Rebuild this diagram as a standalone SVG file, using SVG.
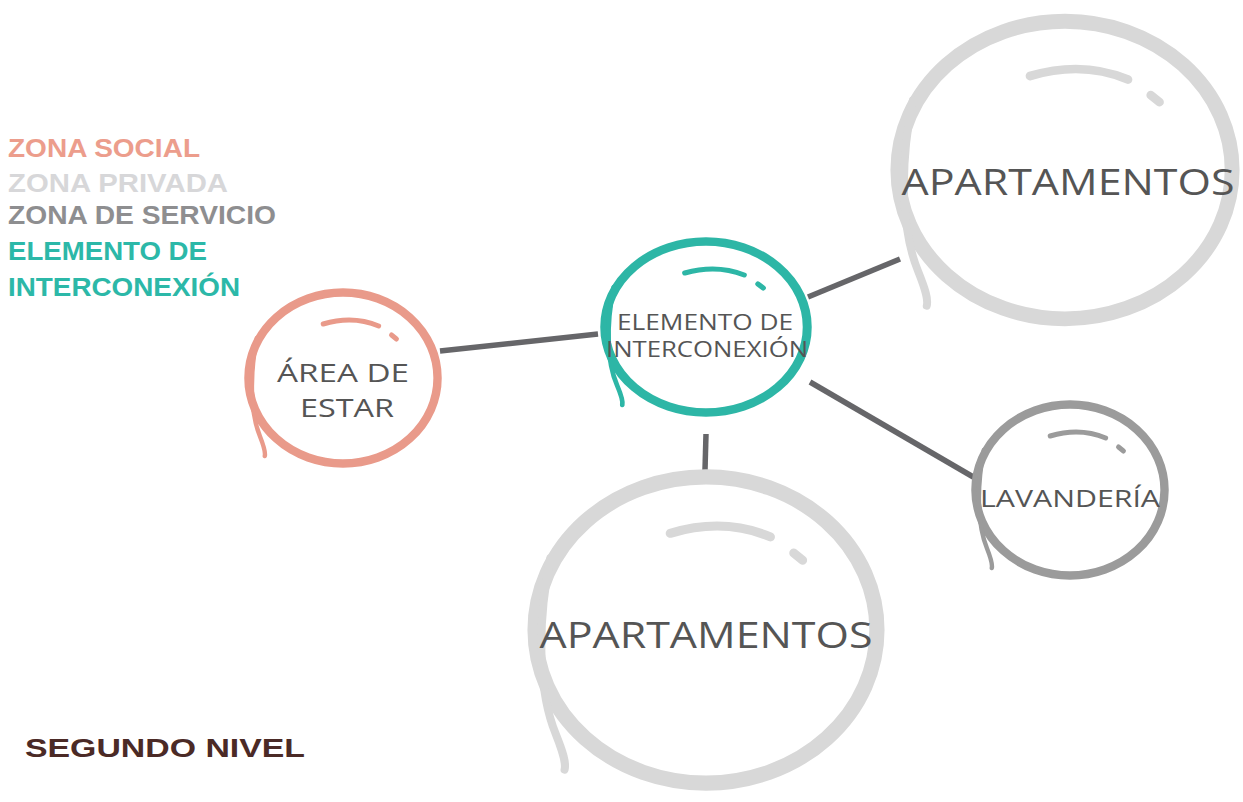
<svg xmlns="http://www.w3.org/2000/svg" xmlns:xlink="http://www.w3.org/1999/xlink" width="1243" height="802" viewBox="0 0 1243 802">
<style>
.leg{font-family:"Liberation Sans",Arial,sans-serif;font-weight:700;font-size:26px}
.lbl{font-family:"Open Sans","Liberation Sans",sans-serif;font-weight:400;fill:#555;stroke:none;text-anchor:middle}
.conn line{stroke:#666669;stroke-width:5.5;stroke-linecap:butt}
.social{stroke:#e99a8a}
.inter{stroke:#2db6a6}
.priv{stroke:#d8d8d8}
.serv{stroke:#9b9b9b}
</style>
<defs>
<g id="sk" fill="none">
<ellipse cx="0" cy="0" rx="95.5" ry="85.5" stroke-width="8.5"/>
<path d="M-87,-40 C-95,0 -93,36 -84,58 C-80,68 -78,74 -79,78" stroke-width="4.5" stroke-linecap="round"/>
<path d="M-20,-54 Q10,-63 36,-52" stroke-width="5" stroke-linecap="round"/>
<path d="M49,-43 L54,-39" stroke-width="5" stroke-linecap="round"/>
</g>
</defs>
<rect width="1243" height="802" fill="#fff"/>
<g id="legend">
<text class="leg" x="8" y="157" fill="#ec9d8c" textLength="192" lengthAdjust="spacingAndGlyphs">ZONA SOCIAL</text>
<text class="leg" x="8" y="192" fill="#d7d7d9" textLength="220" lengthAdjust="spacingAndGlyphs">ZONA PRIVADA</text>
<text class="leg" x="8" y="224" fill="#8e8e90" textLength="268" lengthAdjust="spacingAndGlyphs">ZONA DE SERVICIO</text>
<text class="leg" x="8" y="260" fill="#2cb8a8" textLength="199" lengthAdjust="spacingAndGlyphs">ELEMENTO DE</text>
<text class="leg" x="8" y="296" fill="#2cb8a8" textLength="232" lengthAdjust="spacingAndGlyphs">INTERCONEXIÓN</text>
</g>
<g id="title">
<text class="leg" x="25" y="757" fill="#4b2a26" font-size="28" textLength="280" lengthAdjust="spacingAndGlyphs">SEGUNDO NIVEL</text>
</g>
<g id="connectors" class="conn">
<line x1="440" y1="351" x2="598" y2="334"/>
<line x1="808" y1="297" x2="900" y2="259"/>
<line x1="810" y1="382" x2="975" y2="478"/>
<line x1="706" y1="434" x2="705" y2="470"/>
</g>
<g id="area-estar" class="social">
<use href="#sk" transform="translate(343,378) scale(0.99,1)"/>
<text class="lbl" x="343" y="382" font-size="26" textLength="132" lengthAdjust="spacingAndGlyphs">ÁREA DE</text>
<text class="lbl" x="347" y="417" font-size="26" textLength="94" lengthAdjust="spacingAndGlyphs">ESTAR</text>
</g>
<g id="elemento" class="inter">
<use href="#sk" transform="translate(706,327) scale(1.06,1)"/>
<text class="lbl" x="705" y="330" font-size="22" textLength="176" lengthAdjust="spacingAndGlyphs">ELEMENTO DE</text>
<text class="lbl" x="707" y="357" font-size="22" textLength="202" lengthAdjust="spacingAndGlyphs">INTERCONEXIÓN</text>
</g>
<g id="apartamentos-1" class="priv">
<use href="#sk" transform="translate(1065,170) scale(1.75,1.74)"/>
<text class="lbl" x="1068" y="195" font-size="36" textLength="333" lengthAdjust="spacingAndGlyphs">APARTAMENTOS</text>
</g>
<g id="lavanderia" class="serv">
<use href="#sk" transform="translate(1070,490) scale(0.99,1)"/>
<text class="lbl" x="1070" y="507" font-size="24" textLength="180" lengthAdjust="spacingAndGlyphs">LAVANDERÍA</text>
</g>
<g id="apartamentos-2" class="priv">
<use href="#sk" transform="translate(706,630) scale(1.79,1.79)"/>
<text class="lbl" x="706" y="648" font-size="36" textLength="333" lengthAdjust="spacingAndGlyphs">APARTAMENTOS</text>
</g>
</svg>
